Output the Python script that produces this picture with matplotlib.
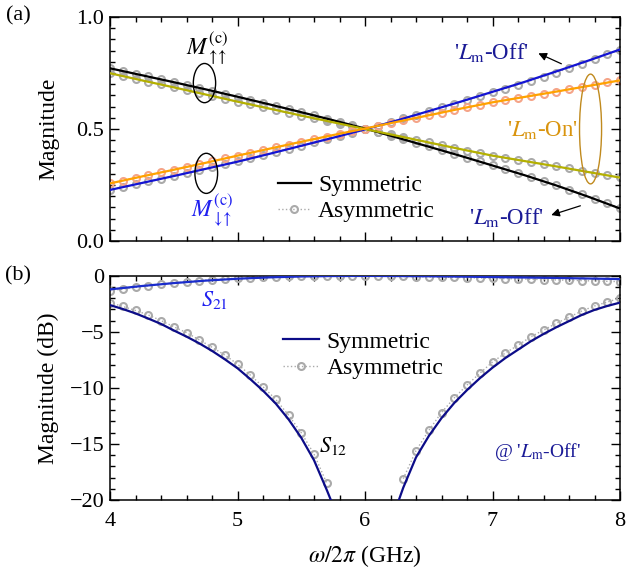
import numpy as np
import matplotlib
matplotlib.use('Agg')
import matplotlib.pyplot as plt
from matplotlib.patches import Ellipse
from matplotlib.lines import Line2D
from matplotlib.ticker import MultipleLocator

plt.rcParams['font.family'] = ['Liberation Serif', 'DejaVu Serif']
plt.rcParams['mathtext.fontset'] = 'stix'
plt.rcParams['font.size'] = 16

# ---- data ----
# frequency grids (GHz)
f_line = np.arange(4, 8.001, 0.25)
f_mark = np.round(np.arange(4, 8.001, 0.1), 2)

# (a) symmetric lines
m_uu_off = [.771, .740, .709, .677, .644, .610, .575, .539, .502, .462, .421, .380, .337, .294, .248, .198, .145]
m_du_off = [.228, .259, .290, .322, .354, .389, .425, .461, .498, .538, .580, .622, .666, .710, .757, .805, .855]
m_uu_on = [.749, .717, .686, .654, .622, .591, .560, .530, .500, .470, .440, .410, .381, .357, .333, .308, .283]
m_du_on = [.257, .288, .318, .349, .381, .412, .443, .473, .502, .532, .561, .591, .619, .643, .667, .692, .717]

# (a) asymmetric markers
a_uu_off = [.772, .760, .747, .735, .722, .710, .697, .684, .671, .658, .645, .631, .617, .603, .589, .575, .561,
            .546, .532, .517, .502, .486, .470, .454, .438, .422, .405, .389, .372, .355, .338, .321, .303, .285,
            .267, .249, .229, .209, .189, .168, .147]
a_du_off = [.229, .241, .254, .266, .279, .291, .304, .317, .330, .343, .356, .370, .384, .398, .412, .426, .440,
            .455, .469, .484, .499, .515, .531, .547, .563, .579, .596, .612, .629, .646, .663, .680, .698, .716,
            .734, .752, .772, .792, .812, .833, .854]
a_uu_on = [.750, .737, .724, .712, .699, .686, .673, .660, .648, .635, .622, .610, .597, .585, .572, .560, .548,
           .536, .524, .512, .500, .488, .476, .464, .452, .440, .428, .416, .404, .393, .381, .372, .362, .353,
           .343, .334, .324, .314, .304, .294, .284]
a_du_on = [.258, .270, .282, .295, .307, .319, .332, .344, .357, .369, .381, .394, .406, .418, .430, .442, .454,
           .466, .478, .490, .502, .514, .526, .538, .550, .561, .573, .585, .596, .608, .619, .629, .638, .647,
           .657, .666, .677, .687, .697, .708, .718]

# (b) symmetric lines (dB)
s21_sym = [-1.22, -0.92, -0.66, -0.44, -0.27, -0.15, -0.07, -0.03, -0.02, -0.03, -0.05, -0.08, -0.12, -0.16,
           -0.20, -0.25, -0.30]
f_s12_left = [4.0, 4.1, 4.2, 4.3, 4.4, 4.5, 4.6, 4.7, 4.8, 4.9, 5.0, 5.1, 5.2, 5.3, 5.4, 5.5, 5.6, 5.7, 5.75]
s12_sym_left = [-2.62, -2.97, -3.36, -3.82, -4.3, -4.88, -5.43, -6.03, -6.7, -7.45, -8.25, -9.22, -10.25,
                -11.4, -12.8, -14.45, -16.45, -19.1, -20.5]
f_s12_right = [6.25, 6.3, 6.4, 6.5, 6.6, 6.7, 6.8, 6.9, 7.0, 7.1, 7.2, 7.3, 7.4, 7.5, 7.6, 7.7, 7.8, 7.9, 8.0]
s12_sym_right = [-20.5, -18.9, -16.2, -14.3, -12.7, -11.35, -10.2, -9.15, -8.2, -7.35, -6.6, -5.85, -5.2, -4.6,
                 -4.05, -3.5, -3.05, -2.7, -2.4]

# (b) asymmetric markers (dB)
s21_asym = [-1.33, -1.2, -1.05, -0.9, -0.76, -0.63, -0.53, -0.44, -0.35, -0.28, -0.22, -0.17, -0.13, -0.09,
            -0.06, -0.04, -0.03, -0.02, -0.02, -0.02, -0.03, -0.04, -0.05, -0.07, -0.09, -0.11, -0.13, -0.15,
            -0.18, -0.2, -0.23, -0.26, -0.29, -0.32, -0.35, -0.38, -0.41, -0.44, -0.47, -0.5, -0.53]
f_s12a_left = [4.0, 4.1, 4.2, 4.3, 4.4, 4.5, 4.6, 4.7, 4.8, 4.9, 5.0, 5.1, 5.2, 5.3, 5.4, 5.5, 5.6, 5.7]
s12_asym_left = [-2.4, -2.74, -3.1, -3.5, -4.0, -4.55, -5.08, -5.72, -6.38, -7.07, -7.88, -8.86, -9.9,
                 -11.03, -12.43, -14.0, -15.9, -18.5]
f_s12a_right = [6.3, 6.4, 6.5, 6.6, 6.7, 6.8, 6.9, 7.0, 7.1, 7.2, 7.3, 7.4, 7.5, 7.6, 7.7, 7.8, 7.9, 8.0]
s12_asym_right = [-18.1, -15.6, -13.8, -12.2, -10.9, -9.75, -8.7, -7.7, -6.9, -6.2, -5.45, -4.85, -4.25,
                  -3.7, -3.15, -2.7, -2.35, -2.0]

grey = '#aaaaaa'
salmon = '#f5a488'
navy = '#0c0c88'

fig = plt.figure(figsize=(6.26, 5.77), dpi=100)
ax1 = fig.add_axes([110/626, 1-241/577, 510/626, 224/577])
ax2 = fig.add_axes([110/626, 1-500/577, 510/626, 224.3/577])

mk = dict(ls=':', lw=1, marker='o', ms=5, mfc='none', mew=1.5, zorder=2)
ax1.plot(f_mark, a_uu_off, color=grey, mec=grey, **mk)
ax1.plot(f_mark, a_du_off, color=grey, mec=grey, **mk)
ax1.plot(f_mark, a_uu_on, color=grey, mec=grey, **mk)
ax1.plot(f_mark, a_du_on, color=salmon, mec=salmon, **mk)

ax1.plot(f_line, m_uu_off, color='black', lw=1.6, zorder=3)
ax1.plot(f_line, m_du_off, color='#1414d2', lw=1.6, zorder=3)
ax1.plot(f_line, m_uu_on, color='#b4b000', lw=1.6, zorder=3)
ax1.plot(f_line, m_du_on, color='#ffa200', lw=1.6, zorder=3)

ax1.add_patch(Ellipse((4.741, 0.705), 0.175, 0.175, fill=False, ec='black', lw=1, zorder=4))
ax1.add_patch(Ellipse((4.755, 0.302), 0.178, 0.179, fill=False, ec='black', lw=1, zorder=4))
ax1.add_patch(Ellipse((7.769, 0.50), 0.173, 0.49, fill=False, ec='#c08a1e', lw=1, zorder=4))

ax1.text(4.76, 0.86, r'$M_{\uparrow\!\!\uparrow}^{(\mathrm{c})}$', fontsize=17, ha='center', va='center')
ax1.text(4.80, 0.135, r'$M_{\downarrow\!\!\uparrow}^{(\mathrm{c})}$', fontsize=17, ha='center', va='center',
         color='#2020f0')
ax1.text(6.99, 0.84, r"'$L_\mathrm{m}$-Off'", fontsize=16.5, ha='center', va='center', color='#1a1a96')
ax1.text(7.11, 0.105, r"'$L_\mathrm{m}$-Off'", fontsize=16.5, ha='center', va='center', color='#1a1a96')
ax1.text(7.39, 0.496, r"'$L_\mathrm{m}$-On'", fontsize=16.5, ha='center', va='center', color='#d9940e')
ax1.annotate('', xy=(7.34, 0.843), xytext=(7.56, 0.786),
             arrowprops=dict(arrowstyle='-|>', color='black', lw=0.9, mutation_scale=12))
ax1.annotate('', xy=(7.44, 0.112), xytext=(7.71, 0.161),
             arrowprops=dict(arrowstyle='-|>', color='black', lw=0.9, mutation_scale=12))

h1 = [Line2D([], [], color='black', lw=1.6),
      Line2D([], [], color=grey, ls=':', lw=1, marker='o', ms=5, mfc='none', mew=1.5)]
ax1.legend(h1, ['Symmetric', 'Asymmetric'], loc='center left', bbox_to_anchor=(0.329, 0.19),
           frameon=False, fontsize=17, handlelength=1.4, handletextpad=0.3, labelspacing=0.2,
           borderpad=0, borderaxespad=0, numpoints=1)

ax1.set_xlim(4, 8)
ax1.set_ylim(0, 1)
ax1.set_yticks([0, 0.5, 1.0])
ax1.set_yticklabels(['0.0', '0.5', '1.0'])
ax1.yaxis.set_minor_locator(MultipleLocator(0.05))
ax1.set_ylabel('Magnitude', fontsize=17)
ax1.tick_params(labelbottom=False)

# (b)
ax2.plot(f_mark, s21_asym, color=grey, mec=grey, **mk)
ax2.plot(f_s12a_left, s12_asym_left, color=grey, mec=grey, **mk)
ax2.plot(f_s12a_right, s12_asym_right, color=grey, mec=grey, **mk)
ax2.plot(f_line, s21_sym, color='#1a2ccc', lw=1.6, zorder=3)
ax2.plot(f_s12_left, s12_sym_left, color=navy, lw=1.6, zorder=3)
ax2.plot(f_s12_right, s12_sym_right, color=navy, lw=1.6, zorder=3)

ax2.text(4.82, -2.2, r'$S_{21}$', fontsize=16, ha='center', va='center', color='#2020f0')
ax2.text(5.75, -15.2, r'$S_{12}$', fontsize=16, ha='center', va='center')
ax2.text(7.35, -15.7, r"@ '$L_\mathrm{m}$-Off'", fontsize=14, ha='center', va='center', color='#1a1a96')

h2 = [Line2D([], [], color=navy, lw=1.6),
      Line2D([], [], color=grey, ls=':', lw=1, marker='o', ms=5, mfc='none', mew=1.5)]
ax2.legend(h2, ['Symmetric', 'Asymmetric'], loc='center left', bbox_to_anchor=(0.339, 0.646),
           frameon=False, fontsize=17, handlelength=1.55, handletextpad=0.3, labelspacing=0.2,
           borderpad=0, borderaxespad=0, numpoints=1)

ax2.set_xlim(4, 8)
ax2.set_ylim(-20, 0)
ax2.set_yticks([0, -5, -10, -15, -20])
ax2.yaxis.set_minor_locator(MultipleLocator(1))
ax2.set_ylabel('Magnitude (dB)', fontsize=17)
ax2.set_xlabel(r'$\omega/2\pi$ (GHz)', fontsize=17, labelpad=8)

for ax in (ax1, ax2):
    ax.set_xticks([4, 5, 6, 7, 8])
    ax.xaxis.set_minor_locator(MultipleLocator(0.2))
    ax.tick_params(which='both', direction='in', top=True, right=True, labelsize=16, width=1)
    ax.tick_params(which='major', length=6.5)
    ax.tick_params(which='minor', length=3.8)
    ax.tick_params(axis='x', pad=9)
    ax.tick_params(axis='y', pad=4)
    for s in ax.spines.values():
        s.set_linewidth(1.1)
    ax.yaxis.set_label_coords(-0.10, 0.5)

fig.text(18/626, 1-16/577, '(a)', fontsize=16, ha='center', va='center')
fig.text(18/626, 1-276/577, '(b)', fontsize=16, ha='center', va='center')

fig.savefig('out.png', dpi=100)
